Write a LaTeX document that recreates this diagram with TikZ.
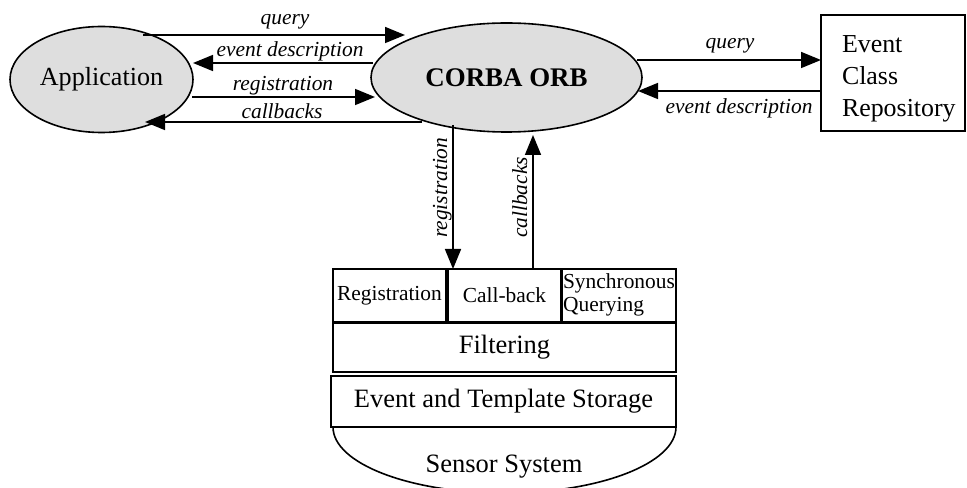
\documentclass[tikz,border=0pt]{standalone}
\usepackage{fontspec}
\setmainfont{Liberation Serif}
\usetikzlibrary{shapes.geometric,arrows.meta,calc}
\definecolor{orbfill}{gray}{0.87}
\begin{document}
\begin{tikzpicture}[x=1bp,y=-1bp,
  every node/.style={outer sep=0pt},
  blob/.style={ellipse,draw,line width=1.6bp,fill=orbfill,inner sep=0pt},
  flow/.style={line width=1.6bp,-{Triangle[length=20bp,width=16bp]}},
  flowlabel/.style={inner sep=0pt,font=\fontsize{21.5}{24}\selectfont\itshape},
  part/.style={draw,line width=1.6bp,inner sep=1bp,minimum height=53bp,
    font=\fontsize{21.5}{23.5}\selectfont},
  layer/.style={draw,line width=1.6bp,inner sep=0pt,font=\fontsize{26.6}{30}\selectfont}]

\useasboundingbox (0,0) rectangle (967,488);

% main components
\node[blob,minimum width=183bp,minimum height=106bp,font=\fontsize{26.2}{30}\selectfont]
  (app) at (101.5,79.5) {Application};
\node[blob,minimum width=271bp,minimum height=109bp,font=\fontsize{27}{30}\selectfont\bfseries]
  (orb) at (506.5,77.5) {CORBA ORB};
\node[draw,line width=1.6bp,minimum width=144bp,minimum height=116bp] (repo) at (893,73) {};
\node[anchor=west,align=left,inner sep=0pt,font=\fontsize{26}{32}\selectfont]
  (repotext) at (842,78.5) {Event\\Class\\Repository};

% sensor-side service stack
\node[part,minimum width=113bp] (regbox) at (389.5,295.5) {Registration};
\node[part,minimum width=113bp] (cbbox) at (504.5,295.5) {Call-back};
\node[part,minimum width=114bp,align=left,text depth=6bp] (syncbox) at (619,295.5) {Synchronous\\Querying};
\node[layer,minimum width=343bp,minimum height=49bp] (filter) at (504.5,347.5) {Filtering};
\node[layer,minimum width=345bp,minimum height=51bp] (store) at (503.5,401.5) {Event and Template Storage};

% sensor system bowl under the stack
\draw[line width=1.6bp] (333,427) .. controls (333,463.5) and (409.8,493) .. (504.5,493)
  .. controls (599.2,493) and (676,463.5) .. (676,427);
\node[font=\fontsize{26.6}{30}\selectfont,anchor=base,inner sep=0pt] (sensor) at (504,472) {Sensor System};

% application <-> ORB
\draw[flow] ($(app.center)+(41.5,-44.5)$) -- ($(orb.west)+(34,-42.5)$);
\draw[flow] ($(orb.west)+(2,-14.5)$) -- ($(app.east)+(0,-16.5)$);
\draw[flow] ($(app.east)+(-1,17.5)$) -- ($(orb.west)+(4,19.5)$);
\draw[flow] ($(orb.west)+(51,44.5)$) -- ($(app.center)+(43.5,42.5)$);

% ORB <-> repository
\draw[flow] ($(orb.east)+(-5,-17.5)$) -- ($(repo.west)+(0,-13)$);
\draw[flow] ($(repo.west)+(0,18)$) -- ($(orb.east)+(-4,13.5)$);

% ORB <-> sensor stack
\draw[flow] ($(orb.south)+(-53.5,-7)$) -- ($(cbbox.north)+(-51.5,0)$);
\draw[flow] ($(cbbox.north)+(28.5,0)$) -- ($(orb.south)+(26.5,3)$);

% connector labels
\node[flowlabel,anchor=base] (lq1) at (285,24.5) {query};
\node[flowlabel,anchor=base] (led1) at (290,56.6) {event description};
\node[flowlabel,anchor=base] (lreg1) at (283,90.6) {registration};
\node[flowlabel,anchor=base] (lcb1) at (282,119) {callbacks};
\node[flowlabel,anchor=base] (lq2) at (730,49) {query};
\node[flowlabel,anchor=base] (led2) at (739,114) {event description};
\node[flowlabel,rotate=90,anchor=base west] (lreg2) at (447,238) {registration};
\node[flowlabel,rotate=90,anchor=base west] (lcb2) at (527,238) {callbacks};
\end{tikzpicture}
\end{document}
